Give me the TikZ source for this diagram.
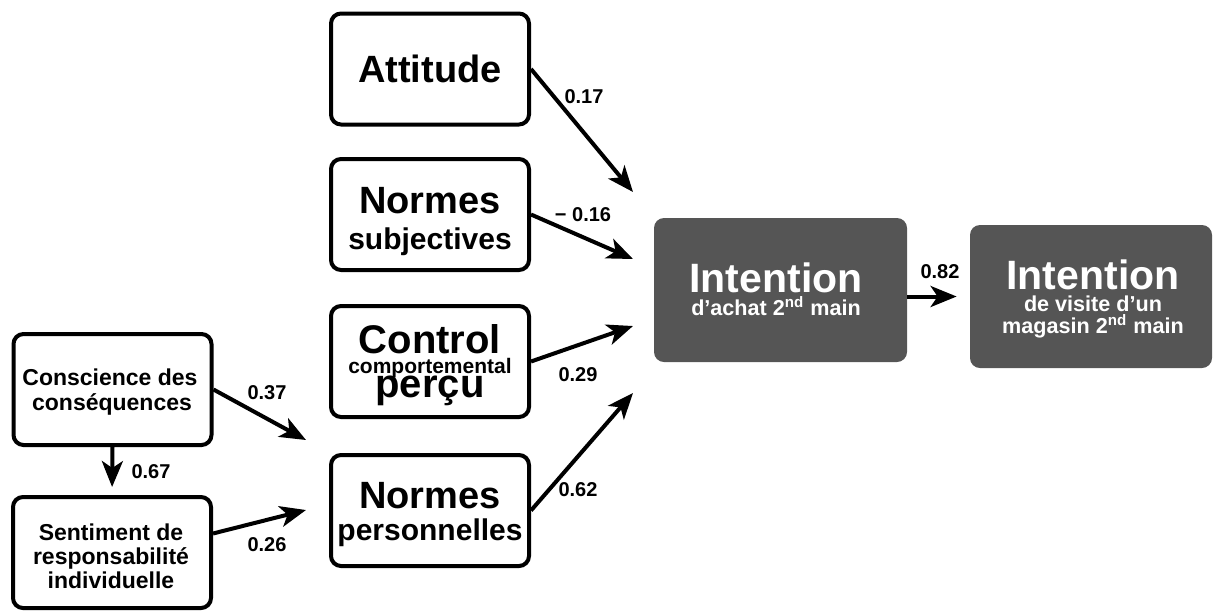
\documentclass[tikz,border=0pt]{standalone}
\usepackage{fontspec}
\setmainfont{Liberation Sans}
\usepackage{tikz}
\usetikzlibrary{arrows.meta}
\definecolor{darkbox}{HTML}{555555}

\begin{document}
\begin{tikzpicture}[x = .5pt, y = -.5pt,
  box/.style = {draw, line width = 2pt, rounded corners = 5pt, minimum width = 99pt,
    minimum height = 55.5pt, inner sep = 0pt},
  dark/.style = {fill = darkbox, rounded corners = 5pt, inner sep = 0pt},
  txt/.style = {inner sep = 0pt, anchor = base},
  big/.style = {txt, font = \bfseries\fontsize{19}{20}\selectfont},
  mid/.style = {txt, font = \bfseries\fontsize{15}{16}\selectfont},
  small/.style = {txt, font = \bfseries\fontsize{11.5}{12}\selectfont},
  tiny/.style = {txt, font = \bfseries\fontsize{10.5}{11}\selectfont},
  wbig/.style = {txt, text = white, font = \bfseries\fontsize{20.5}{21}\selectfont},
  wsmall/.style = {txt, text = white, font = \bfseries\fontsize{10.8}{11}\selectfont},
  coef/.style = {inner sep = 0pt, font = \bfseries\fontsize{10}{12}\selectfont},
  link/.style = {-{Stealth[length = 13pt, width = 10.5pt, inset = 3.5pt]}, line width = 2pt}]
\useasboundingbox (0, 0) rectangle (1214, 612);

% boxes
\node[box] (Att) at (430, 69) {};
\node[box] (NS) at (430, 214.5) {};
\node[box] (PBC) at (430, 361.5) {};
\node[box] (NP) at (430, 510.5) {};
\node[box] (AC) at (112.5, 389.5) {};
\node[box] (AR) at (112, 552.5) {};
\node[dark, minimum width = 126.5pt, minimum height = 72pt] (IA) at (780.5, 290) {};
\node[dark, minimum width = 121pt, minimum height = 71.5pt] (IV) at (1091, 296.5) {};

% texts of the boxes
\node[big] (Att1) at (430, 82) {Attitude};
\node[big] (NS1) at (430, 213) {Normes};
\node[mid] (NS2) at (430, 249) {subjectives};
\node[big, font = \bfseries\fontsize{20}{20}\selectfont] (PBC1) at (430, 353) {Control};
\node[tiny] (PBC2) at (430, 373) {comportemental};
\node[big, font = \bfseries\fontsize{20}{20}\selectfont] (PBC3) at (430, 397) {perçu};
\node[big] (NP1) at (430, 508) {Normes};
\node[mid] (NP2) at (430, 540) {personnelles};
\node[small] (AC1) at (110, 385) {Conscience des};
\node[small] (AC2) at (112, 410) {conséquences};
\node[small] (AR1) at (111, 540) {Sentiment de};
\node[small] (AR2) at (111, 564) {responsabilité};
\node[small] (AR3) at (111, 588) {individuelle};
\node[wbig] (IA1) at (776, 292) {Intention};
\node[wsmall] (IA2) at (776, 315) {d’achat 2\textsuperscript{nd} main};
\node[wbig] (IV1) at (1093, 289) {Intention};
\node[wsmall] (IV2) at (1093, 311) {de visite d’un};
\node[wsmall] (IV3) at (1093, 333) {magasin 2\textsuperscript{nd} main};

% free ends of the arrows into the intention
\coordinate (e1) at (633, 192);
\coordinate (e2) at (633, 259);
\coordinate (e3) at (633, 326);
\coordinate (e4) at (633, 393);
\coordinate (e5) at (306, 440);
\coordinate (e6) at (306, 510);

\draw[link] (Att.east) -- (e1);
\draw[link] (NS.east) -- (e2);
\draw[link] (PBC.east) -- (e3);
\draw[link] (NP.east) -- (e4);
\draw[link] (AC.east) -- (e5);
\draw[link] ([yshift = 9.5pt]AR.east) -- (e6);
\draw[link, shorten > = 4pt] (AC.south) -- (AR.north);
\draw[link, shorten > = 6.5pt] (IA.east |- IV.west) -- (IV.west);

\node[coef] (c17) at (584, 97) {0.17};
\node[coef] (c16) at (583, 215) {− 0.16};
\node[coef] (c29) at (578, 375) {0.29};
\node[coef] (c62) at (578, 490) {0.62};
\node[coef] (c37) at (267, 393) {0.37};
\node[coef] (c26) at (267, 545) {0.26};
\node[coef] (c67) at (151, 472) {0.67};
\node[coef] (c82) at (940, 272) {0.82};

\end{tikzpicture}
\end{document}
